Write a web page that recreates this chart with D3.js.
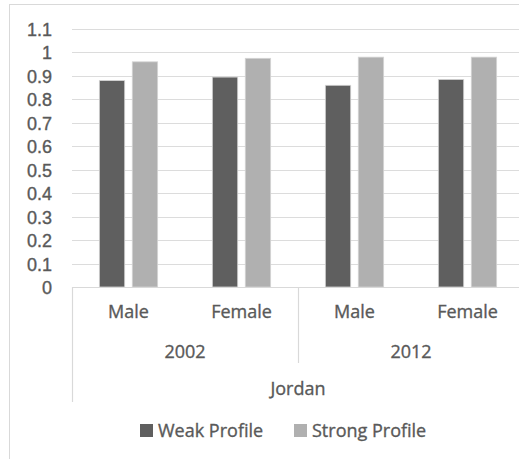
<!DOCTYPE html>
<html>
<head>
<meta charset="utf-8">
<script src="https://cdn.jsdelivr.net/npm/d3@7"></script>
<style>
    body { margin: 0; background: #fff; }
    svg { display: block; font-family: "Open Sans", sans-serif; }
    .tick-label, .cat-label, .legend-label { fill: #595959; font-size: 18px; stroke: #595959; stroke-width: 0.35px; }
</style>
</head>
<body>
<svg></svg>
<script>
const categories = ["Male", "Female", "Male", "Female"];
const years = ["2002", "2002", "2012", "2012"];
const country = "Jordan";
const series = ["Weak Profile", "Strong Profile"];
const weakProfile = [0.88, 0.895, 0.86, 0.885];
const strongProfile = [0.96, 0.975, 0.98, 0.98];
const yTicks = [0, 0.1, 0.2, 0.3, 0.4, 0.5, 0.6, 0.7, 0.8, 0.9, 1, 1.1];

function drawChart() {
    const svgWidth = 519, svgHeight = 459;
    const plot = { left: 72, right: 524, top: 29, bottom: 287 };
    const colors = { "Weak Profile": "#5f5f5f", "Strong Profile": "#b0b0b0" };

    const svg = d3.select("svg")
        .attr("width", svgWidth)
        .attr("height", svgHeight);

    // chart border
    svg.append("rect")
        .attr("x", 9.5).attr("y", 4.5)
        .attr("width", 600).attr("height", 500)
        .attr("fill", "none")
        .attr("stroke", "#d9d9d9");

    const keys = categories.map((c, i) => i);
    const x = d3.scaleBand()
        .domain(keys)
        .range([plot.left, plot.right]);

    const x1 = d3.scaleBand()
        .domain(series)
        .range([0, x.bandwidth()])
        .paddingInner(0.23)
        .paddingOuter(0.83);

    const y = d3.scaleLinear()
        .domain([0, 1.1])
        .range([plot.bottom, plot.top]);

    // gridlines
    svg.append("g")
        .selectAll("line")
        .data(yTicks.slice(1))
        .join("line")
        .attr("x1", plot.left).attr("x2", plot.right)
        .attr("y1", d => Math.round(y(d)) + 0.5)
        .attr("y2", d => Math.round(y(d)) + 0.5)
        .attr("stroke", "#dcdcdc")
        .attr("stroke-width", 1.2);

    // y axis labels
    const yAxis = svg.append("g")
        .attr("transform", `translate(${plot.left}, 0)`)
        .call(d3.axisLeft(y)
            .tickValues(yTicks)
            .tickSize(0)
            .tickPadding(20)
            .tickFormat(d3.format("~g")));
    yAxis.select(".domain").remove();
    yAxis.selectAll("text")
        .attr("class", "tick-label")
        .attr("font-family", null)
        .attr("font-size", null)
        .attr("fill", null)
        .attr("dy", "0.36em");

    // bars
    const rows = keys.map(i => ({ i, values: [weakProfile[i], strongProfile[i]] }));
    svg.append("g")
        .selectAll("g")
        .data(rows)
        .join("g")
        .attr("transform", d => `translate(${x(d.i)}, 0)`)
        .selectAll("rect")
        .data(d => d.values.map((v, k) => ({ key: series[k], value: v })))
        .join("rect")
        .attr("x", d => x1(d.key))
        .attr("y", d => y(d.value))
        .attr("width", x1.bandwidth())
        .attr("height", d => y(0) - y(d.value))
        .attr("fill", d => colors[d.key])
        .attr("stroke", "#d4d4d4")
        .attr("stroke-width", 0.8);

    // category axis
    const axisG = svg.append("g").attr("stroke", "#d9d9d9").attr("stroke-width", 1.2);
    axisG.append("line")
        .attr("x1", plot.left).attr("x2", plot.right)
        .attr("y1", y(0) + 0.5).attr("y2", y(0) + 0.5);
    axisG.append("line")
        .attr("x1", plot.left + 0.5).attr("x2", plot.left + 0.5)
        .attr("y1", y(0)).attr("y2", 402);
    axisG.append("line")
        .attr("x1", plot.right - 0.5).attr("x2", plot.right - 0.5)
        .attr("y1", y(0)).attr("y2", 402);

    const yearGroups = d3.groups(keys, i => years[i]);
    yearGroups.slice(1).forEach(([yr, idx]) => {
        axisG.append("line")
            .attr("x1", x(idx[0]) + 0.5).attr("x2", x(idx[0]) + 0.5)
            .attr("y1", y(0)).attr("y2", 363);
    });

    svg.append("g")
        .selectAll("text")
        .data(keys)
        .join("text")
        .attr("class", "cat-label")
        .attr("x", i => x(i) + x.bandwidth() / 2)
        .attr("y", 318)
        .attr("text-anchor", "middle")
        .text(i => categories[i]);

    svg.append("g")
        .selectAll("text")
        .data(yearGroups)
        .join("text")
        .attr("class", "cat-label")
        .attr("x", d => (x(d[1][0]) + x(d[1][d[1].length - 1]) + x.bandwidth()) / 2)
        .attr("y", 358)
        .attr("text-anchor", "middle")
        .text(d => d[0]);

    svg.append("text")
        .attr("class", "cat-label")
        .attr("x", (plot.left + plot.right) / 2)
        .attr("y", 395)
        .attr("text-anchor", "middle")
        .text(country);

    // legend
    const legendX = [140, 294];
    const legend = svg.append("g")
        .selectAll("g")
        .data(series)
        .join("g")
        .attr("transform", (d, i) => `translate(${legendX[i]}, 424)`);
    legend.append("rect")
        .attr("width", 13).attr("height", 13)
        .attr("fill", d => colors[d]);
    legend.append("text")
        .attr("class", "legend-label")
        .attr("x", 18).attr("y", 12.5)
        .text(d => d);
}

drawChart();
</script>
</body>
</html>
